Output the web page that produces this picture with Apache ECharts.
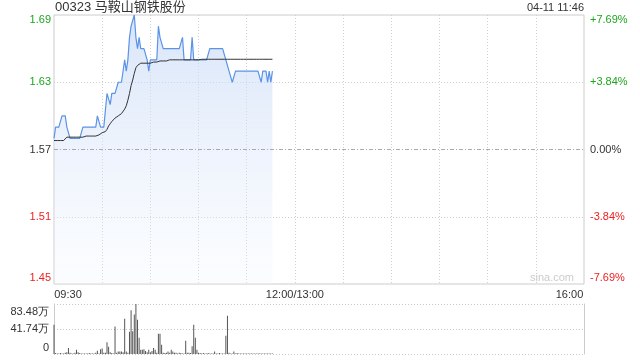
<!DOCTYPE html>
<html><head><meta charset="utf-8">
<script src="https://cdn.jsdelivr.net/npm/echarts@6/dist/echarts.min.js"></script>
<style>html,body{margin:0;padding:0;background:#fff}#c{width:640px;height:360px}</style>
</head><body><div id="c"></div>
<script>
const PREV = 1.57;
const titleText = '00323 马鞍山钢铁股份';
const stampText = '04-11 11:46';
const priceTickLabels = ['1.45', '1.51', '1.57', '1.63', '1.69'];
const pctTickLabels = ['-7.69%', '-3.84%', '0.00%', '+3.84%', '+7.69%'];
const volTickLabels = ['0', '41.74万', '83.48万'];
const xTickLabels = ['09:30', '12:00/13:00', '16:00'];

// minute-by-minute price from 09:30 to 11:46
const price = [
  1.58, 1.59, 1.59, 1.59, 1.59, 1.60, 1.60, 1.60, 1.59, 1.59,
  1.58, 1.58, 1.58, 1.58, 1.58, 1.58, 1.58, 1.58, 1.59, 1.59,
  1.59, 1.59, 1.59, 1.59, 1.59, 1.59, 1.59, 1.60, 1.60, 1.59,
  1.59, 1.59, 1.59, 1.62, 1.62, 1.61, 1.62, 1.62, 1.62, 1.62,
  1.63, 1.63, 1.63, 1.63, 1.65, 1.64, 1.65, 1.67, 1.68, 1.68,
  1.69, 1.67, 1.66, 1.67, 1.66, 1.66, 1.66, 1.66, 1.65, 1.64,
  1.65, 1.65, 1.65, 1.65, 1.65, 1.68, 1.67, 1.67, 1.66, 1.66,
  1.66, 1.66, 1.66, 1.66, 1.66, 1.66, 1.66, 1.66, 1.66, 1.66,
  1.67, 1.65, 1.65, 1.65, 1.65, 1.65, 1.67, 1.65, 1.65, 1.65,
  1.65, 1.65, 1.65, 1.65, 1.65, 1.65, 1.65, 1.66, 1.66, 1.66,
  1.66, 1.66, 1.66, 1.66, 1.66, 1.66, 1.66, 1.65, 1.65, 1.64,
  1.64, 1.63, 1.63, 1.64, 1.64, 1.64, 1.64, 1.64, 1.64, 1.64,
  1.64, 1.64, 1.64, 1.64, 1.64, 1.64, 1.64, 1.64, 1.64, 1.63,
  1.64, 1.64, 1.64, 1.63, 1.64, 1.63, 1.64
];
const avgPrice = [
  1.578, 1.578, 1.578, 1.578, 1.578, 1.578, 1.578, 1.578, 1.581, 1.581,
  1.581, 1.581, 1.581, 1.581, 1.581, 1.581, 1.581, 1.581, 1.581, 1.582,
  1.582, 1.582, 1.582, 1.582, 1.582, 1.582, 1.582, 1.583, 1.583, 1.584,
  1.585, 1.585, 1.586, 1.588, 1.591, 1.593, 1.595, 1.596, 1.598, 1.599,
  1.600, 1.601, 1.602, 1.603, 1.606, 1.609, 1.614, 1.620, 1.627, 1.632,
  1.638, 1.643, 1.645, 1.646, 1.647, 1.647, 1.647, 1.647, 1.647, 1.647,
  1.647, 1.648, 1.648, 1.648, 1.648, 1.648, 1.649, 1.649, 1.649, 1.649,
  1.649, 1.650, 1.650, 1.650, 1.650, 1.650, 1.650, 1.650, 1.650, 1.650,
  1.650, 1.650, 1.650, 1.650, 1.650, 1.650, 1.650, 1.650, 1.650, 1.650,
  1.650, 1.6505, 1.6505, 1.6505, 1.6505, 1.6505, 1.6505, 1.6505, 1.6505, 1.6505,
  1.6505, 1.6505, 1.6505, 1.6505, 1.6505, 1.6505, 1.6505, 1.6505, 1.6505, 1.6505,
  1.6505, 1.6505, 1.6505, 1.6505, 1.6505, 1.6505, 1.6505, 1.6505, 1.6505, 1.6505,
  1.6505, 1.6505, 1.6505, 1.6505, 1.6505, 1.6505, 1.6505, 1.6505, 1.6505, 1.6505,
  1.6505, 1.6505, 1.6505, 1.6505, 1.6505, 1.6505, 1.6505
];
// volume in 万 shares
const volume = [
  49, 1.5, 1, 1, 1.5, 1, 1, 2, 3, 10,
  2, 1, 1, 2, 7, 3, 1.5, 1, 1, 1,
  1, 1, 1.5, 1, 1, 1, 2, 5.6, 1, 8,
  9, 2, 2, 19.5, 12, 3, 1.5, 1, 46, 2,
  4, 4, 4, 3, 59, 4, 2, 37, 73, 38,
  66, 83.48, 57, 27, 7, 7, 8, 5, 3, 7,
  3, 5, 10, 7, 2, 34, 34, 15.6, 2, 1.5,
  2, 4, 2, 7, 4, 2, 2, 1, 2, 1.5,
  1, 1, 22, 2, 2, 1.5, 13, 49, 27, 7,
  2, 1.5, 1, 1.5, 1, 1, 1.5, 1, 1, 1,
  4, 1, 1, 1.5, 1, 1, 1, 30.6, 64, 2,
  1, 1, 4, 1, 1.5, 1, 1, 1, 1, 1,
  1, 1, 1, 1, 1, 1, 1, 1, 1, 1,
  1, 1, 1, 1, 1, 1, 1
];

// trading-minute categories: 09:30..11:59, 12:00/13:00, 13:01..16:00
const times = [];
function pad(n) { return (n < 10 ? '0' : '') + n; }
for (let m = 0; m < 150; m++) { const t = 570 + m; times.push(pad(Math.floor(t / 60)) + ':' + pad(t % 60)); }
times.push(xTickLabels[1]);
for (let m = 1; m <= 180; m++) { const t = 780 + m; times.push(pad(Math.floor(t / 60)) + ':' + pad(t % 60)); }

const toCents = p => Math.round((p - PREV) * 10000) / 100;
const priceData = price.map(toCents);
const avgData = avgPrice.map(toCents);

const GREEN = '#1ea51e', RED = '#f02020', DARK = '#333';
const FONT = '"Liberation Sans", Arial, sans-serif';

const chart = echarts.init(document.getElementById('c'), null, { renderer: 'canvas' });
chart.setOption({
  animation: false,
  textStyle: { fontFamily: FONT },
  title: [
    { text: titleText, left: 55, top: 1, padding: 0,
      textStyle: { fontSize: 13, fontWeight: 'normal', color: DARK, fontFamily: '"Liberation Sans", "Noto Sans CJK SC", sans-serif' } },
    { text: stampText, right: 56, top: 2, padding: 0,
      textStyle: { fontSize: 11, fontWeight: 'normal', color: DARK, fontFamily: FONT } }
  ],
  graphic: [{
    type: 'text', right: 66, top: 272, silent: true,
    style: { text: 'sina.com', fill: '#cccccc', font: '11px ' + FONT }
  }],
  grid: [
    { left: 54, right: 56, top: 15, height: 269, show: true, borderColor: '#cccccc', borderWidth: 1, containLabel: false },
    { left: 54, right: 56, top: 304, height: 50, containLabel: false }
  ],
  xAxis: [
    { type: 'category', gridIndex: 0, data: times, boundaryGap: false,
      axisLine: { show: false }, axisTick: { show: false },
      axisLabel: {
        interval: (i) => i === 0 || i === 150 || i === 330,
        margin: 5, color: DARK, fontSize: 11, fontFamily: FONT,
        formatter: (v, i) => i === 0 ? '{l|' + xTickLabels[0] + '}' : (i === 330 ? '{r|' + xTickLabels[2] + '}' : '{m|' + xTickLabels[1] + '}'),
        rich: {
          l: { fontSize: 11, color: DARK, padding: [0, 0, 0, 28] },
          m: { fontSize: 11, color: DARK },
          r: { fontSize: 11, color: DARK, padding: [0, 29, 0, 0] }
        }
      },
      splitLine: { show: true, interval: (i) => i > 0 && i < 330 && i % 30 === 0,
        lineStyle: { color: '#cfcfcf', type: [1, 2], width: 1 } }
    },
    { type: 'category', gridIndex: 1, data: times, boundaryGap: false,
      axisLine: { show: false }, axisTick: { show: false }, axisLabel: { show: false }, splitLine: { show: false } }
  ],
  yAxis: [
    { type: 'value', gridIndex: 0, position: 'left', min: -12, max: 12, interval: 6,
      axisLine: { show: false }, axisTick: { show: false },
      axisLabel: {
        margin: 3, fontSize: 11,
        formatter: (v) => { const i = Math.round((v + 12) / 6); return '{c' + i + '|' + priceTickLabels[i] + '}'; },
        rich: {
          c0: { color: RED, fontSize: 11, padding: [0, 0, 12, 0] },
          c1: { color: RED, fontSize: 11 },
          c2: { color: DARK, fontSize: 11 },
          c3: { color: GREEN, fontSize: 11 },
          c4: { color: GREEN, fontSize: 11, padding: [10, 0, 0, 0] }
        }
      },
      splitLine: { show: true, lineStyle: { color: ['rgba(0,0,0,0)', '#cfcfcf', 'rgba(0,0,0,0)', '#cfcfcf', 'rgba(0,0,0,0)'], type: [1, 2] } }
    },
    { type: 'value', gridIndex: 0, position: 'right', min: -12, max: 12, interval: 6,
      axisLine: { show: false }, axisTick: { show: false }, splitLine: { show: false },
      axisLabel: {
        margin: 6, fontSize: 11,
        formatter: (v) => { const i = Math.round((v + 12) / 6); return '{c' + i + '|' + pctTickLabels[i] + '}'; },
        rich: {
          c0: { color: RED, fontSize: 11, padding: [0, 0, 12, 0] },
          c1: { color: RED, fontSize: 11 },
          c2: { color: DARK, fontSize: 11 },
          c3: { color: GREEN, fontSize: 11 },
          c4: { color: GREEN, fontSize: 11, padding: [10, 0, 0, 0] }
        }
      }
    },
    { type: 'value', gridIndex: 1, position: 'left', min: 0, max: 83.48, interval: 41.74,
      axisLine: { show: true, onZero: false, lineStyle: { color: '#cccccc' } }, axisTick: { show: false },
      axisLabel: {
        margin: 5, fontSize: 11,
        formatter: (v) => { const i = Math.round(v / 41.74); return '{v' + i + '|' + volTickLabels[i] + '}'; },
        rich: {
          v0: { color: DARK, fontSize: 11, padding: [0, 0, 12, 0] },
          v1: { color: DARK, fontSize: 11 },
          v2: { color: DARK, fontSize: 11, padding: [15, 0, 0, 0] }
        }
      },
      splitLine: { show: true, lineStyle: { color: '#c8c8c8', type: [1, 2] } }
    },
    { type: 'value', gridIndex: 1, position: 'right', min: 0, max: 83.48, interval: 41.74,
      axisLine: { show: true, onZero: false, lineStyle: { color: '#cccccc' } }, axisTick: { show: false },
      axisLabel: { show: false }, splitLine: { show: false } }
  ],
  series: [
    { name: 'price', type: 'line', xAxisIndex: 0, yAxisIndex: 0, data: priceData,
      showSymbol: false, symbol: 'none', lineStyle: { color: '#5b93e8', width: 1.2 },
      areaStyle: { origin: 'start', color: new echarts.graphic.LinearGradient(0, 0, 0, 1, [
        { offset: 0, color: 'rgba(196,215,246,0.95)' }, { offset: 1, color: 'rgba(238,244,253,0.35)' }]) },
      markLine: { silent: true, symbol: 'none', label: { show: false },
        lineStyle: { color: '#aaaaaa', type: [4, 2, 1, 2], width: 1 }, data: [{ yAxis: 0 }] }
    },
    { name: 'avg', type: 'line', xAxisIndex: 0, yAxisIndex: 0, data: avgData,
      showSymbol: false, symbol: 'none', lineStyle: { color: '#333333', width: 1 } },
    { name: 'volume', type: 'bar', xAxisIndex: 1, yAxisIndex: 2, data: volume,
      barWidth: 1, itemStyle: { color: '#555555' } }
  ]
});
</script></body></html>
